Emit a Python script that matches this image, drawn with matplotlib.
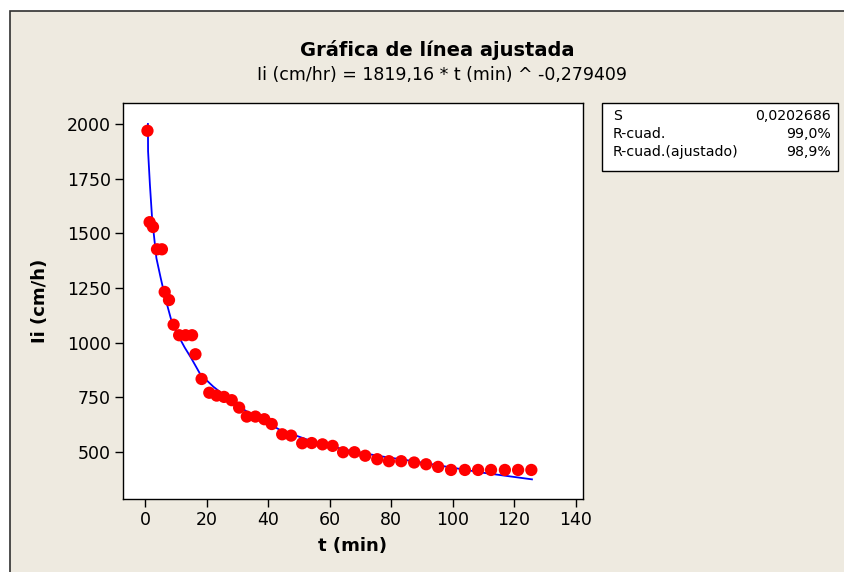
import matplotlib
matplotlib.use("Agg")
import matplotlib.pyplot as plt
from matplotlib.patches import Rectangle

plt.rcParams['font.family'] = ['DejaVu Sans Condensed', 'DejaVu Sans']

# infiltration measurements
t_min = [0.8, 1.5, 2.6, 3.9, 5.5, 6.4, 7.8, 9.3, 11.1, 13.2, 15.3, 16.4,
         18.4, 20.9, 23.3, 25.7, 28.2, 30.6, 33.1, 35.9, 38.8, 41.2, 44.6,
         47.5, 51.1, 54.2, 57.7, 61.0, 64.4, 68.1, 71.6, 75.5, 79.3, 83.3,
         87.5, 91.4, 95.3, 99.5, 104.0, 108.3, 112.5, 117.0, 121.3, 125.6]
ii_cmh = [1969, 1551, 1529, 1427, 1427, 1232, 1195, 1082, 1034, 1034, 1034,
          947, 834, 771, 758, 752, 737, 703, 662, 662, 650, 628, 581, 575,
          540, 541, 535, 528, 499, 499, 483, 467, 458, 458, 452, 444, 432,
          418, 418, 418, 418, 418, 418, 418]

# fitted curve
fit_t = [0.95, 1.0, 1.6, 2.3, 3.7, 5.1, 6.6, 8.6, 10.7, 12.9, 15.0, 18.0,
         22.2, 27.5, 33.1, 43.9, 54.7, 65.6, 76.4, 87.3, 98.0, 110.0, 125.8]
fit_ii = [2000, 1875, 1722, 1570, 1387, 1296, 1204, 1100, 1035, 978, 930,
          855, 799, 740, 685, 601, 547, 509, 481, 458, 433, 405, 375]

title = "Gráfica de línea ajustada"
subtitle = "Ii (cm/hr) = 1819,16 * t (min) ^ -0,279409"
stats = [("S", "0,0202686"), ("R-cuad.", "99,0%"), ("R-cuad.(ajustado)", "98,9%")]

W, H = 844, 572
bg = '#eeeae0'

fig = plt.figure(figsize=(W / 100, H / 100), dpi=100, facecolor='white')

# beige panel with a thin dark frame
fig.patches.append(Rectangle((9.5 / W, -0.05), 1.1, 1.05 - 10.5 / H,
                             transform=fig.transFigure, facecolor=bg,
                             edgecolor='#303030', linewidth=1.2, zorder=-5))

ax = fig.add_axes([122.7 / W, 1 - 498.7 / H, 460 / W, 395.4 / H])
ax.set_zorder(2)
ax.set_facecolor('white')

ax.plot(fit_t, fit_ii, color='#0000ff', lw=1.3, zorder=2)
ax.scatter(t_min, ii_cmh, s=78, color='#ff0000', edgecolors='none', zorder=3)

ax.set_xlim(-7.25, 142.3)
ax.set_ylim(286.5, 2094.6)
ax.set_xticks(range(0, 141, 20))
ax.set_yticks(range(500, 2001, 250))
ax.tick_params(direction='out', length=5.5, width=1, labelsize=12.5,
               colors='black', pad=3)
for sp in ax.spines.values():
    sp.set_linewidth(1)
    sp.set_color('black')

ax.set_xlabel("t (min)", fontsize=13, fontweight='bold', labelpad=6)
ax.set_ylabel("Ii (cm/h)", fontsize=13, fontweight='bold', labelpad=13)

fig.text(437 / W, 1 - 50 / H, title, ha='center', va='center',
         fontsize=14, fontweight='bold')
fig.text(442 / W, 1 - 75 / H, subtitle, ha='center', va='center',
         fontsize=12.5)

# summary table
bx0, by0, bx1, by1 = 602, 103, 838, 171
fig.patches.append(Rectangle((bx0 / W, 1 - by1 / H), (bx1 - bx0) / W,
                             (by1 - by0) / H, transform=fig.transFigure,
                             facecolor='white', edgecolor='black',
                             linewidth=1, zorder=1))
for i, (name, val) in enumerate(stats):
    y = 1 - (116 + 18 * i) / H
    fig.text(613 / W, y, name, ha='left', va='center', fontsize=10.2)
    fig.text(831 / W, y, val, ha='right', va='center', fontsize=10.2)

fig.savefig("out.png", dpi=100, facecolor=fig.get_facecolor())
